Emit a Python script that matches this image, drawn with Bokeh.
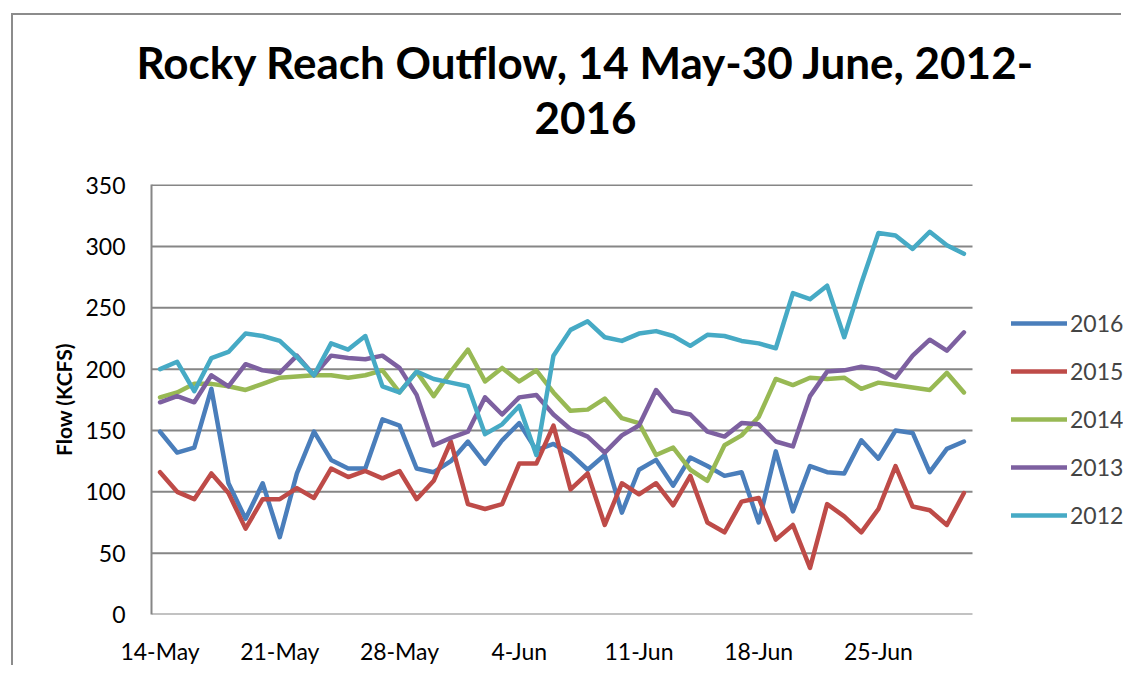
from bokeh.plotting import figure
from bokeh.models import Range1d, FixedTicker, Legend, LegendItem, Title
from bokeh.embed import file_html
from bokeh.resources import INLINE

# ---- data ----
days = list(range(48))  # 14 May .. 30 June
tick_days = [0, 7, 14, 21, 28, 35, 42]
tick_labels = ["14-May", "21-May", "28-May", "4-Jun", "11-Jun", "18-Jun", "25-Jun"]
y_ticks = [0, 50, 100, 150, 200, 250, 300, 350]

y2016 = [149, 132, 136, 184, 107, 78, 107, 63, 115, 149, 126, 119, 119, 159, 154, 119, 116,
         125, 141, 123, 142, 156, 134, 139, 131, 118, 130, 83, 118, 126, 105, 128, 121,
         113, 116, 75, 133, 84, 121, 116, 115, 142, 127, 150, 148, 116, 135, 141]
y2015 = [116, 100, 94, 115, 99, 70, 94, 94, 103, 95, 119, 112, 117, 111, 117, 94, 109,
         141, 90, 86, 90, 123, 123, 154, 102, 115, 73, 107, 98, 107, 89, 113, 75,
         67, 92, 95, 61, 73, 38, 90, 80, 67, 86, 121, 88, 85, 73, 99]
y2014 = [177, 181, 188, 188, 186, 183, 188, 193, 194, 195, 195, 193, 195, 199, 181, 198, 178,
         198, 216, 190, 201, 190, 199, 181, 166, 167, 176, 160, 156, 130, 136, 118, 109,
         138, 146, 161, 192, 187, 193, 192, 193, 184, 189, 187, 185, 183, 197, 181]
y2013 = [173, 178, 173, 195, 186, 204, 199, 197, 211, 195, 211, 209, 208, 211, 201, 179, 138,
         144, 149, 177, 163, 177, 179, 163, 151, 145, 132, 146, 154, 183, 166, 163, 149,
         145, 156, 155, 141, 137, 178, 198, 199, 202, 200, 193, 211, 224, 215, 230]
y2012 = [200, 206, 182, 209, 214, 229, 227, 223, 210, 195, 221, 216, 227, 186, 181, 198, 192,
         189, 186, 147, 155, 170, 130, 211, 232, 239, 226, 223, 229, 231, 227, 219, 228,
         227, 223, 221, 217, 262, 257, 268, 226, 270, 311, 309, 298, 312, 301, 294]

series = [("2016", y2016, "#4A7EBB"), ("2015", y2015, "#BE4B48"), ("2014", y2014, "#98B954"),
          ("2013", y2013, "#7D60A0"), ("2012", y2012, "#46AAC5")]

FONT = "Lato"
GRID = "#868686"

W, H = 1110, 652
LEFT = 138
plot_px = 821                      # pixel width of the category area
n_cat = len(days)
x_start = -0.5
x_end = x_start + (W - LEFT) * n_cat / plot_px   # room on the right for the legend
x_last = n_cat - 0.5

p = figure(width=W, height=H, output_backend="svg", toolbar_location=None,
           x_range=Range1d(x_start, x_end), y_range=Range1d(0, 350.5),
           min_border_left=LEFT, min_border_right=0, min_border_top=169, min_border_bottom=51,
           title="Rocky Reach Outflow, 14 May-30 June, 2012-")
p.styles = {"margin-left": "11px", "margin-top": "13px",
            "border-left": "2px solid #8c8c8c", "border-top": "2px solid #8c8c8c"}

p.title.text_font = FONT
p.title.text_font_size = "44px"
p.title.text_font_style = "bold"
p.title.text_color = "black"
p.title.align = "left"
p.title.offset = -15
p.title.standoff = 0
# empty spacer between the title block and the plot area (nearest the plot)
p.add_layout(Title(text=" ", text_font=FONT, text_font_size="10px", standoff=24), "above")
p.add_layout(Title(text="2016", text_font=FONT, text_color="black",
                   text_font_size="44px", text_font_style="bold", align="left",
                   offset=383, standoff=25), "above")

p.outline_line_color = None
p.xgrid.visible = False
p.ygrid.visible = False
# horizontal gridlines, limited to the category area
p.segment(x0=[x_start] * len(y_ticks), x1=[x_last] * len(y_ticks), y0=y_ticks, y1=y_ticks,
          line_color=GRID, line_width=2)

p.yaxis.ticker = FixedTicker(ticks=y_ticks)
p.xaxis.ticker = FixedTicker(ticks=tick_days)
p.xaxis.major_label_overrides = {d: l for d, l in zip(tick_days, tick_labels)}
for ax in (p.xaxis[0], p.yaxis[0]):
    ax.axis_line_color = GRID
    ax.axis_line_width = 2
    ax.major_tick_in = 0
    ax.major_tick_out = 0
    ax.minor_tick_in = 0
    ax.minor_tick_out = 0
    ax.major_label_text_font = FONT
    ax.major_label_text_font_size = "23px"
    ax.major_label_text_color = "black"
p.xaxis.axis_line_color = None
p.yaxis.major_label_standoff = 26
p.xaxis.major_label_standoff = 22
p.yaxis.axis_label = "Flow (KCFS)"
p.yaxis.axis_label_text_font = FONT
p.yaxis.axis_label_text_font_size = "21px"
p.yaxis.axis_label_text_font_style = "bold"
p.yaxis.axis_label_text_color = "black"
p.yaxis.axis_label_standoff = 6

renderers = {}
for name, ys, color in series:
    renderers[name] = p.line(days, ys, line_color=color, line_width=4.5,
                             line_join="round", line_cap="round")

legend = Legend(items=[LegendItem(label=n, renderers=[renderers[n]]) for n, _, _ in series],
                location=(860, 85), orientation="vertical",
                border_line_color=None, background_fill_alpha=0,
                padding=0, margin=0, spacing=20, glyph_width=56, glyph_height=28,
                label_height=28, label_standoff=3,
                label_text_font=FONT, label_text_font_size="23px")
p.add_layout(legend, "center")

open("out.html", "w").write(file_html(p, INLINE))
